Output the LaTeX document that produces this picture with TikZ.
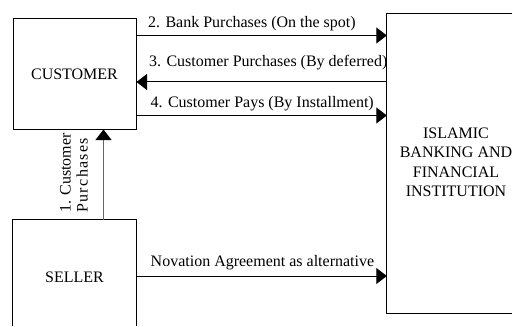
\documentclass[tikz,border=0pt]{standalone}
\usepackage{fontspec}
\setmainfont{Liberation Serif}
\usetikzlibrary{arrows.meta}
\begin{document}
\begin{tikzpicture}[x=1pt,y=-1pt,
  box/.style={draw=black,line width=1pt,rectangle,inner sep=0pt,font=\fontsize{16}{19.5}\selectfont,align=center},
  arr/.style={line width=1pt,-{Triangle[length=10.5pt,width=16pt,color=black]}},
  lbl/.style={inner sep=0pt,anchor=base west,font=\fontsize{16}{19.5}\selectfont}]
\useasboundingbox (0,0) rectangle (513,326);
\fill[white] (0,0) rectangle (513,326);
\node[box,minimum width=123pt,minimum height=110pt] (customer) at (74.5,74) {CUSTOMER};
\coordinate (bottomedge) at (0,326);
\coordinate (rightedge) at (512,0);
\node[inner sep=0pt,minimum width=123pt,minimum height=106pt] (seller) at (74.5,273) {};
\draw[line width=1pt] (seller.west |- bottomedge) -- (seller.north west) -- (seller.north east) -- (seller.east |- bottomedge);
\node[font=\fontsize{16}{19.5}\selectfont] (sellertext) at (74.5,277) {SELLER};
\node[inner sep=0pt,minimum width=126pt,minimum height=299.5pt] (bank) at (450,163.25) {};
\draw[line width=1pt] (bank.north -| rightedge) -- (bank.north west) -- (bank.south west) -- (bank.south -| rightedge);
\node[align=center,font=\fontsize{16}{19.5}\selectfont] (banktext) at (456,162.5) {ISLAMIC\\BANKING AND\\FINANCIAL\\INSTITUTION};
% connectors
\coordinate (c2) at ([yshift=-17pt]customer.north east);
\coordinate (c3) at ([yshift=-8pt]customer.east);
\coordinate (c4) at ([yshift=14pt]customer.south east);
\coordinate (s1) at (seller.east |- 0,276);
\draw[arr] (c2) -- (c2 -| bank.west);
\draw[arr] (c3 -| bank.west) -- (c3);
\draw[arr] (c4) -- (c4 -| bank.west);
\draw[arr] (s1) -- (s1 -| bank.west);
\draw[arr,draw=black!60] ([xshift=29pt]seller.north) -- ([xshift=29pt]customer.south);
% labels
\node[lbl] (l2) at (148,28) {2. Bank Purchases (On the spot)};
\node[lbl] (l3) at (149,67) {3. Customer Purchases (By deferred)};
\node[lbl] (l4) at (150.5,107) {4. Customer Pays (By Installment)};
\node[lbl] (l5) at (150.5,266) {Novation Agreement as alternative};
\node[rotate=90,inner sep=0pt,align=left,font=\fontsize{16}{17}\selectfont] (l1) at (74,173)
  {1. Customer\\\makebox[75pt][s]{P\hfill u\hfill r\hfill c\hfill h\hfill a\hfill s\hfill e\hfill s}};
\end{tikzpicture}
\end{document}
